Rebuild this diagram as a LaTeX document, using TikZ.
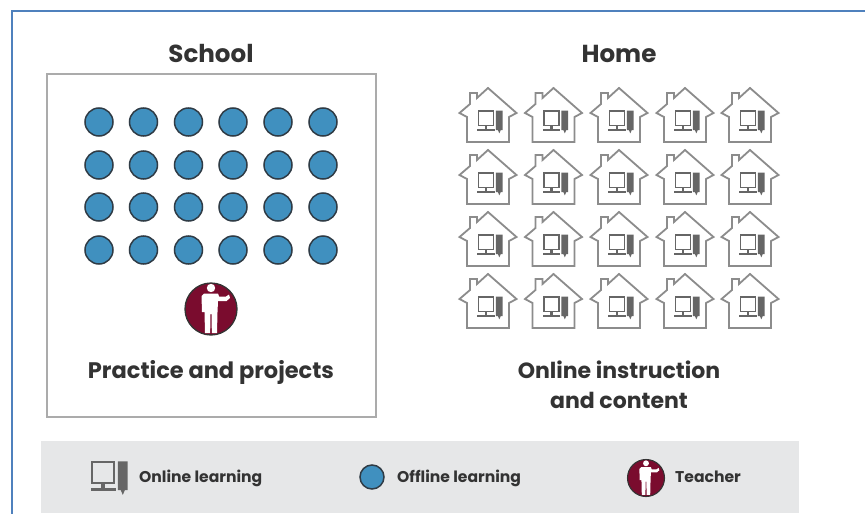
\documentclass[tikz,border=0pt]{standalone}
\usepackage{fontspec}
\setmainfont{Poppins}
\definecolor{framecol}{HTML}{4F81BD}
\definecolor{boxcol}{HTML}{ABABAB}
\definecolor{bandcol}{HTML}{E6E7E8}
\definecolor{dotcol}{HTML}{4090BF}
\definecolor{dotline}{HTML}{2F3B45}
\definecolor{teachcol}{HTML}{7A0C2E}
\definecolor{txtcol}{HTML}{333333}
\definecolor{iconcol}{HTML}{666666}
\tikzset{
  learner/.style={circle,draw=dotline,line width=1.5pt,fill=dotcol,minimum size=#1,inner sep=0pt},
  title/.style={font=\fontsize{24.6}{28}\selectfont\bfseries,text=txtcol,anchor=base,inner sep=0pt},
  caption/.style={font=\fontsize{22.5}{30}\selectfont\bfseries,text=txtcol,anchor=base,inner sep=0pt},
  caption2/.style={font=\fontsize{22}{30}\selectfont\bfseries,text=txtcol,align=center,inner sep=0pt},
  legendtxt/.style={font=\fontsize{15.6}{18}\selectfont\bfseries,text=txtcol,anchor=base west,inner sep=0pt},
  pics/pcicon/.style={code={
    \draw[iconcol,line width=#1] (-14,-11) rectangle (2,4);
    \fill[iconcol] (-7.5,4) rectangle (-4.5,8);
    \fill[iconcol] (-15,7.5) rectangle (3,10);
    \fill[iconcol] (4.5,-11.5) -- (11.5,-11.5) -- (11.5,9) -- (9.5,9) -- (8,12.5) -- (6.5,9) -- (4.5,9) -- cycle;
  }},
  pics/houseicon/.style={code={
    \draw[black!45,line width=1.8pt,line join=miter,fill=white]
      (-21,54) -- (-21,29) -- (-28.5,25) -- (-18,16) -- (-18,5) -- (-11,5) -- (-11,10)
      -- (0,0) -- (28.5,25) -- (21,29) -- (21,54) -- cycle;
    \pic[transform shape,shift={(3.7,33.5)},scale=0.95] {pcicon=1.3pt};
  }},
  pics/teachericon/.style={code={
    \begin{scope}[scale=#1]
    \fill[white] (0,-21) circle (4.2);
    \fill[white] (-7,-15.5) -- (7,-15.5) -- (8,-12.5) -- (15,-12.5) -- (18,-14.5) -- (19,-11)
       -- (15.5,-8) -- (7,-8) -- (6.5,3) -- (6,24) -- (0.8,24) -- (0.6,5) -- (-0.6,5) -- (-0.8,24)
       -- (-6,24) -- (-6.5,3) -- (-9,3) -- (-9.5,-13) -- cycle;
    \end{scope}
  }},
}
\begin{document}
\begin{tikzpicture}[x=1pt,y=-1pt]
\useasboundingbox (0,0) rectangle (865,514);
\fill[white] (0,0) rectangle (865,514);
\draw[framecol,line width=2pt] (12,514) -- (12,11) -- (865,11);
\node[draw=boxcol,line width=2pt,minimum width=329pt,minimum height=343pt,inner sep=0pt,anchor=north west] (schoolbox) at (46,73) {};
\node[title] (schooltitle) at (211,62) {School};
\node[title] (hometitle) at (619,62) {Home};
\foreach \c/\x in {1/99,2/143.5,3/188.5,4/233,5/278,6/323}
  \foreach \r/\y in {1/122,2/165,3/207,4/250}
    \node[learner=28pt] (dot\r\c) at (\x,\y) {};
\node[circle,draw=black!80,line width=1.3pt,fill=teachcol,minimum size=52pt,inner sep=0pt] (teacher) at (211,309) {};
\pic at (teacher.center) {teachericon=1};
\node[caption] (practice) at (211,378.5) {Practice and projects};
\foreach \x in {488,553.5,619,685,750}
  \foreach \y in {88,150,212,274}
    \pic at (\x,\y) {houseicon};
\node[caption2] (online) at (619,385) {Online instruction\\and content};
\fill[bandcol] (41,441) rectangle (799,513);
\pic[transform shape,scale=1.4] at (111.6,477.4) {pcicon=1.9pt};
\node[legendtxt] (lgonline) at (139,482.5) {Online learning};
\node[learner=24pt] (lgdot) at (372,477) {};
\node[legendtxt] (lgoffline) at (397,482.5) {Offline learning};
\node[circle,draw=black!80,line width=1.1pt,fill=teachcol,minimum size=37pt,inner sep=0pt] (lgteacher) at (646,478) {};
\pic at (lgteacher.center) {teachericon=0.7};
\node[legendtxt] (lgteach) at (675,482.5) {Teacher};
\end{tikzpicture}
\end{document}
